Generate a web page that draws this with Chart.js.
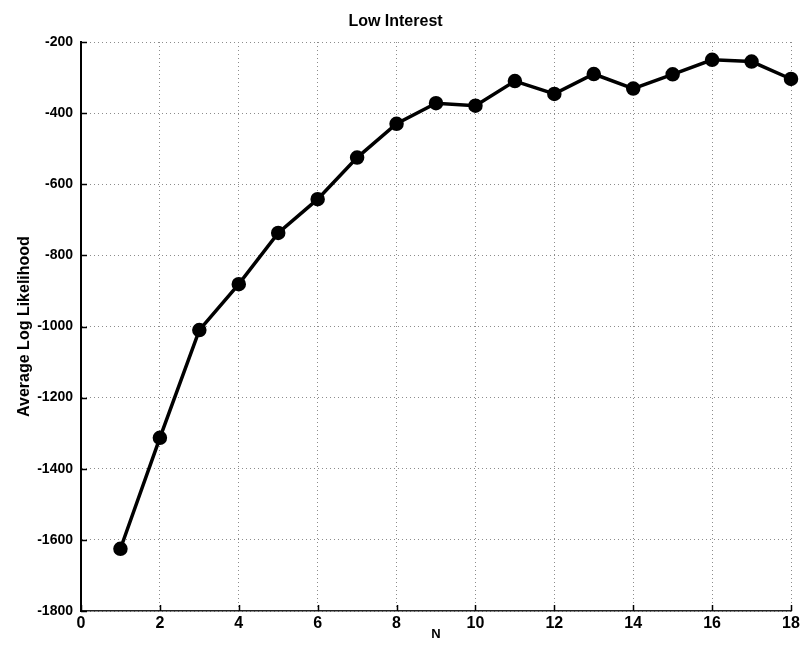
<!DOCTYPE html>
<html>
<head>
<meta charset="utf-8">
<title>Low Interest</title>
<script src="https://cdn.jsdelivr.net/npm/chart.js@4/dist/chart.umd.min.js"></script>
<style>
  html, body { margin: 0; padding: 0; background: #fff; }
  #wrap { width: 804px; height: 652px; position: relative; }
</style>
</head>
<body>
<div id="wrap"><canvas id="llChart" width="804" height="652"></canvas></div>
<script>
// N (number of components) and the average log likelihood for each
const nValues = [1, 2, 3, 4, 5, 6, 7, 8, 9, 10, 11, 12, 13, 14, 15, 16, 17, 18];
const avgLogLik = [-1625, -1313, -1010, -881, -737, -642, -525, -430, -372, -379,
                   -310, -346, -290, -331, -291, -250, -255, -304];

// axis ranges / tick steps
const xRange = [0, 18];
const xStep = 2;
const yRange = [-1800, -200];
const yStep = 200;

const FONT = "'Liberation Sans', Arial, Helvetica, sans-serif";

// short tick marks pointing into the plot, like the old matlab axes
const innerTicks = {
    id: 'innerTicks',
    afterDatasetsDraw(chart) {
        const ctx = chart.ctx;
        const xs = chart.scales.x, ys = chart.scales.y;
        const area = chart.chartArea;
        ctx.save();
        ctx.strokeStyle = '#000';
        ctx.lineWidth = 1.5;
        ctx.beginPath();
        xs.ticks.forEach(t => {
            const px = Math.round(xs.getPixelForValue(t.value)) + 0.5;
            ctx.moveTo(px, area.bottom);
            ctx.lineTo(px, area.bottom - 6);
        });
        ys.ticks.forEach(t => {
            const py = Math.round(ys.getPixelForValue(t.value)) + 0.5;
            ctx.moveTo(area.left, py);
            ctx.lineTo(area.left + 6, py);
        });
        ctx.stroke();
        ctx.restore();
    }
};

// plain numbers, no thousands separator
const plainLabel = v => String(v);

const ctx = document.getElementById('llChart').getContext('2d');
const chart = new Chart(ctx, {
    type: 'line',
    data: {
        datasets: [{
            label: 'Average Log Likelihood',
            data: nValues.map((n, i) => ({ x: n, y: avgLogLik[i] })),
            borderColor: '#000',
            backgroundColor: '#000',
            borderWidth: 3.5,
            pointRadius: 5.5,
            pointHoverRadius: 5.5,
            pointBackgroundColor: '#000',
            pointBorderColor: '#000',
            fill: false,
            tension: 0,
            clip: false
        }]
    },
    options: {
        responsive: false,
        animation: false,
        layout: { padding: { left: 0, right: 13, top: 0, bottom: 0 } },
        plugins: {
            legend: { display: false },
            tooltip: { enabled: false },
            title: {
                display: true,
                text: 'Low Interest',
                color: '#000',
                font: { family: FONT, size: 16, weight: 'bold' },
                padding: { top: 12, bottom: 10.8 }
            }
        },
        scales: {
            x: {
                type: 'linear',
                min: xRange[0],
                max: xRange[1],
                afterFit(scale) { scale.height = 41; },
                ticks: {
                    stepSize: xStep,
                    color: '#000',
                    padding: 3,
                    maxRotation: 0,
                    callback: plainLabel,
                    font: { family: FONT, size: 16, weight: 'bold' }
                },
                grid: {
                    drawTicks: false,
                    color: '#8c8c8c',
                    lineWidth: 1
                },
                // border.dash is the dash of the grid lines in v4
                border: { display: true, color: '#222', width: 1.5, dash: [1, 3] },
                title: {
                    display: true,
                    text: 'N',
                    color: '#000',
                    font: { family: FONT, size: 13, weight: 'bold' },
                    padding: { top: 0, bottom: 10 }
                }
            },
            y: {
                type: 'linear',
                min: yRange[0],
                max: yRange[1],
                afterFit(scale) { scale.width = 81; },
                ticks: {
                    stepSize: yStep,
                    color: '#000',
                    padding: 8,
                    callback: plainLabel,
                    font: { family: FONT, size: 14, weight: 'bold' }
                },
                grid: {
                    drawTicks: false,
                    color: '#8c8c8c',
                    lineWidth: 1
                },
                border: { display: true, color: '#000', width: 2, dash: [1, 3] },
                title: {
                    display: true,
                    text: 'Average Log Likelihood',
                    color: '#000',
                    font: { family: FONT, size: 16, weight: 'bold' },
                    padding: { top: 15, bottom: 0 }
                }
            }
        }
    },
    plugins: [innerTicks]
});
</script>
</body>
</html>
